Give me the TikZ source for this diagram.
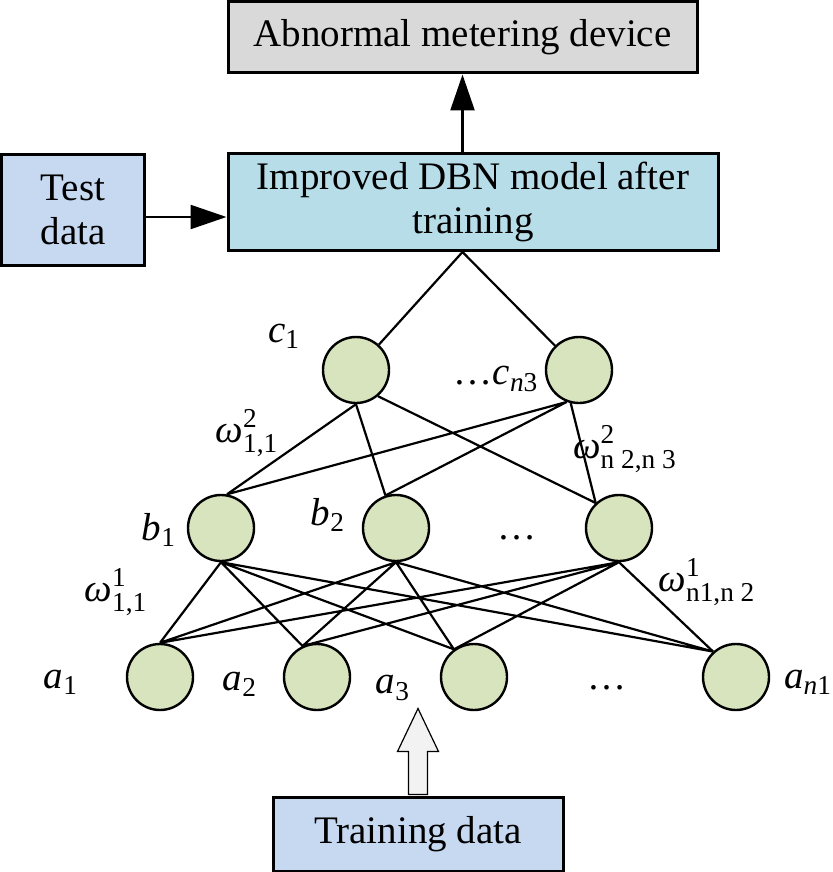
\documentclass[tikz,border=0pt]{standalone}
\usepackage{amsmath}
\usepackage{fontspec}
\setmainfont{Liberation Serif}
\usetikzlibrary{arrows.meta}

\definecolor{boxgray}{HTML}{D9D9D9}
\definecolor{boxcyan}{HTML}{B7DDE8}
\definecolor{boxblue}{HTML}{C6D9F1}
\definecolor{unitgreen}{HTML}{D7E4BD}
\definecolor{hollowgray}{HTML}{F2F2F2}

\tikzset{
  box/.style={draw, line width=1.5pt, align=center, inner sep=0pt},
  unit/.style={circle, draw, fill=unitgreen, line width=1.2pt, minimum size=33pt, inner sep=0pt},
  link/.style={line width=1.1pt},
  flow/.style={line width=1.2pt, -{Triangle[length=18pt,width=12pt]}},
  hollow/.style={draw, fill=hollowgray, line width=0.6pt},
  lbl/.style={inner sep=0pt}
}

\newcommand{\wgt}[2]{$\textit{ω}^{\text{#1}}_{\text{#2}}$}

\begin{document}
\begin{tikzpicture}[x=0.5pt, y=-0.5pt, font=\fontsize{19.5}{22}\selectfont]
  \useasboundingbox (0,0) rectangle (832,872);

  \node [box, fill=boxgray, minimum width=234.5pt, minimum height=35.5pt] (abn) at (462.5,37.5) {Abnormal metering device};
  \node [box, fill=boxcyan, minimum width=245pt, minimum height=48.5pt] (dbn) at (473,202) {Improved DBN model after\\training};
  \node [box, fill=boxblue, minimum width=71.5pt, minimum height=55.5pt] (test) at (73,210) {Test\\data};
  \node [box, fill=boxblue, minimum width=145pt, minimum height=37pt] (train) at (418,834) {Training data};

  \draw [flow] (abn.south |- dbn.north) -- (abn.south);
  \draw [flow] ([yshift=-3.5pt]test.east) -- ([yshift=-3.5pt]test.east -| dbn.west);
  \draw [hollow] (train.north) +(-9.5,-1) -- +(-9.5,-44) -- +(-20.5,-44) -- +(0,-87)
    -- +(20.5,-44) -- +(9.5,-44) -- +(9.5,-1) -- cycle;

  \coordinate (apex) at (abn.south |- dbn.south);

  \node [unit] (c1) at (356,370) {};
  \node [unit] (cn) at (579,370) {};
  \node [unit] (b1) at (221,528) {};
  \node [unit] (b2) at (396,528) {};
  \node [unit] (bn) at (619,528) {};
  \node [unit] (a1) at (160,677) {};
  \node [unit] (a2) at (317,677) {};
  \node [unit] (a3) at (474,677) {};
  \node [unit] (an) at (736,677) {};

  \draw [link] (apex) -- (c1) (apex) -- (cn);
  \draw [link] (c1.south) -- (b1.80) (c1.south) -- (b2.108) (c1.-50) -- (bn.133)
    (cn.-111) -- (b1.80) (cn.-111) -- (b2.108) (cn.-104) -- (bn.133);
  \draw [link] (b1.south) -- (a1.north) (b1.south) -- (a2.115) (b1.south) -- (a3.126) (b1.south) -- (an.132)
    (b2.south) -- (a1.north) (b2.south) -- (a2.115) (b2.south) -- (a3.126) (b2.south) -- (an.132)
    (bn.south) -- (a1.north) (bn.south) -- (a2.115) (bn.south) -- (a3.126) (bn.south) -- (an.132);

  \node [lbl] (c1-lbl) at (284,336) {$\textit{c}_{\text{1}}$};
  \node [lbl] (cn-lbl) at (496,379) {\ldots$\textit{c}_{\text{\textit{n}3}}$};
  \node [lbl] (b1-lbl) at (159,530) {$\textit{b}_{\text{1}}$};
  \node [lbl] (b2-lbl) at (328,515) {$\textit{b}_{\text{2}}$};
  \node [lbl] (b-dots) at (517,538) {\ldots};
  \node [lbl] (a1-lbl) at (61,682) {$\textit{a}_{\text{1}}$};
  \node [lbl] (a2-lbl) at (240,684) {$\textit{a}_{\text{2}}$};
  \node [lbl] (a3-lbl) at (393,688) {$\textit{a}_{\text{3}}$};
  \node [lbl] (a-dots) at (607,688) {\ldots};
  \node [lbl] (an-lbl) at (808,682) {$\textit{a}_{\text{\textit{n}1}}$};

  \node [lbl] (w2-first) at (247,433) {\wgt{2}{1,1}};
  \node [lbl] (w2-last) at (625,449) {\wgt{2}{n 2,n 3}};
  \node [lbl] (w1-first) at (116,592) {\wgt{1}{1,1}};
  \node [lbl] (w1-last) at (707,582) {\wgt{1}{n1,n 2}};
\end{tikzpicture}
\end{document}
